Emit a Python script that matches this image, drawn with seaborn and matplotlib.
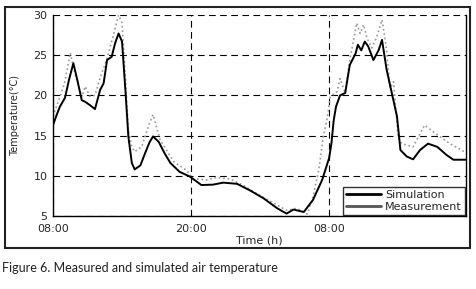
import matplotlib
matplotlib.use("Agg")
import matplotlib.pyplot as plt
import seaborn as sns
import numpy as np
import pandas as pd
from matplotlib.lines import Line2D
from matplotlib.patches import Rectangle

# ---- data (hours after 08:00 of day 1, temperature in °C) ----
sim_hours = [0, 0.3, 0.6, 1.04, 1.4, 1.77, 2.1, 2.5, 2.8, 3.2, 3.65, 4.1, 4.4, 4.7, 5.1,
             5.4, 5.7, 6.0, 6.3, 6.55, 6.85, 7.1, 7.6, 8.0, 8.4, 8.7, 9.2, 9.7, 10.2,
             11.0, 11.9, 12.9, 13.9, 14.8, 16.0, 17.1, 18.3, 19.5, 20.3, 20.9, 21.8,
             22.6, 23.4, 24.0, 24.2, 24.4, 24.6, 24.95, 25.4, 25.8, 26.3, 26.5, 26.8,
             27.1, 27.4, 27.85, 28.3, 28.6, 29.0, 29.45, 29.9, 30.2, 30.75, 31.3,
             31.9, 32.6, 33.4, 34.2, 34.8, 36.0]
sim_temp = [16.3, 17.5, 18.6, 19.7, 22.0, 24.0, 22.0, 19.4, 19.2, 18.8, 18.3, 20.7, 21.5,
            24.4, 24.8, 26.5, 27.7, 26.7, 20.5, 14.9, 11.6, 10.8, 11.3, 12.8, 14.2, 14.9,
            14.2, 12.8, 11.6, 10.5, 9.9, 8.85, 8.9, 9.15, 9.0, 8.2, 7.2, 5.95, 5.3, 5.8,
            5.5, 7.0, 9.5, 12.2, 14.0, 16.9, 18.6, 20.0, 20.3, 23.8, 25.2, 26.3, 25.6,
            26.7, 26.1, 24.4, 25.6, 26.9, 23.2, 20.3, 17.4, 13.2, 12.4, 12.05, 13.2,
            14.0, 13.6, 12.6, 12.0, 12.0]

meas_hours = [0, 0.6, 1.0, 1.5, 1.9, 2.5, 2.8, 3.2, 3.65, 4.1, 4.7, 5.25, 5.7, 6.0, 6.3,
              6.55, 6.85, 7.1, 7.7, 8.4, 8.7, 9.3, 10.5, 11.6, 12.2, 13.4, 14.2, 15.4,
              16.5, 17.7, 19.2, 20.3, 21.2, 22.1, 22.6, 23.1, 23.5, 23.8, 24.1, 24.7,
              24.95, 25.4, 25.8, 26.4, 26.7, 27.0, 27.3, 27.7, 28.1, 28.6, 28.96, 29.3,
              29.6, 30.0, 30.3, 31.3, 32.3, 33.4, 34.5, 36.0]
meas_temp = [17.4, 19.8, 21.5, 25.3, 22.8, 19.8, 21.1, 19.9, 20.0, 22.2, 24.6, 27.5, 30.0,
             29.0, 22.0, 15.7, 13.6, 13.0, 13.6, 16.6, 17.6, 14.5, 11.75, 10.7, 9.6, 9.5,
             9.8, 9.6, 8.85, 7.8, 6.6, 5.7, 5.95, 5.25, 7.4, 10.7, 14.9, 16.9, 19.8, 20.5,
             22.1, 20.3, 24.4, 29.0, 27.7, 28.8, 27.1, 25.9, 27.1, 29.4, 26.1, 20.9, 21.7,
             14.9, 14.0, 13.6, 16.3, 15.1, 14.0, 12.8]

x_ticks = [0, 12, 24]
x_tick_labels = ["08:00", "20:00", "08:00"]
y_ticks = [5, 10, 15, 20, 25, 30]
series_names = ["Simulation", "Measurement"]

sns.set_style("white")
plt.rcParams["font.family"] = ["DejaVu Sans"]

fig = plt.figure(figsize=(4.77, 2.89), dpi=100)
ax = fig.add_axes([53/477, 73/289, (466-53)/477, (216-15)/289])

sns.lineplot(x=meas_hours, y=meas_temp, ax=ax, color="#999999", linestyle=":",
             linewidth=1.2, sort=False)
sns.lineplot(x=sim_hours, y=sim_temp, ax=ax, color="black", linewidth=1.4, sort=False)

ax.set_xlim(0, 35.9)
ax.set_ylim(5, 30)
ax.set_xticks(x_ticks)
ax.set_xticklabels(x_tick_labels)
ax.set_yticks(y_ticks)
ax.tick_params(axis="both", labelsize=8, length=3, width=0.8, color="black",
               direction="out", pad=1)
ax.tick_params(axis="x", length=2, pad=4)

ax.grid(True, color="black", linestyle=(0, (6, 4)), linewidth=0.8)
for s in ["left", "bottom", "right"]:
    ax.spines[s].set_visible(True)
    ax.spines[s].set_color("black")
    ax.spines[s].set_linewidth(1.0)
ax.spines["top"].set_visible(False)

ax.set_xlabel("Time (h)", fontsize=8, labelpad=1)
ax.set_ylabel("Temperature(°C)", fontsize=7)
ax.yaxis.set_label_coords(-0.08, 0.5)

handles = [Line2D([0], [0], color="black", linewidth=2.0),
           Line2D([0], [0], color="#555555", linewidth=2.0)]
leg = ax.legend(handles, series_names, loc="lower right", fontsize=8, frameon=True,
                fancybox=False, borderaxespad=0.1, handlelength=3.2, handletextpad=0.3,
                borderpad=0.3, labelspacing=0.15)
leg.get_frame().set_edgecolor("black")
leg.get_frame().set_linewidth(1.0)

# outer frame around the chart area
fig.patches.append(Rectangle((5/477, 41/289), (470-5)/477, (248-7)/289,
                             transform=fig.transFigure, fill=False,
                             edgecolor="#222222", linewidth=1.5))

fig.text(0.004, 0.073, "Figure 6. Measured and simulated air temperature",
         fontsize=9, family=["Lato", "DejaVu Sans"], color="#222222", ha="left", va="center")

fig.savefig("out.png", dpi=100)
